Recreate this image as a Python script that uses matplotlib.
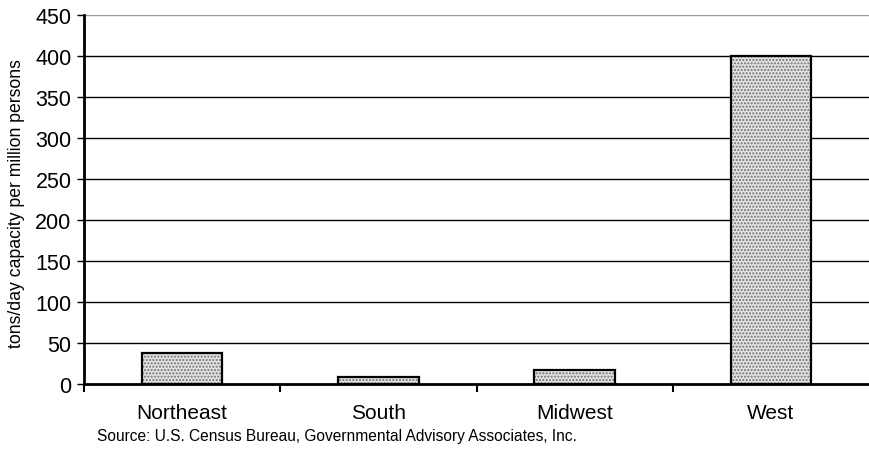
import matplotlib
matplotlib.use("Agg")
import matplotlib.pyplot as plt
from matplotlib.transforms import Bbox
import numpy as np

categories = ["Northeast", "South", "Midwest", "West"]
values = [38, 9, 17, 400]
yticks = [0, 50, 100, 150, 200, 250, 300, 350, 400, 450]

plt.rcParams['font.family'] = ['Liberation Sans', 'DejaVu Sans']
fig = plt.figure(figsize=(8.69, 4.56), dpi=100)
ax = fig.add_axes([84/869, (456-385)/456, (869-84)/869, (385-16)/456])

x = np.arange(len(categories))
# stipple fill (gray dots) then black outline
ax.bar(x, values, width=0.41, facecolor='#e2e2e2', edgecolor='#707070', linewidth=0,
       hatch='.....', zorder=3)
ax.bar(x, values, width=0.41, facecolor='none', edgecolor='black', linewidth=1.6,
       zorder=4)

ax.set_xlim(-0.5, len(categories) - 0.5)
ax.set_ylim(0, 450)
ax.set_yticks(yticks)
ax.set_yticklabels([str(v) for v in yticks], fontsize=15.5)
for v in yticks[1:]:
    ax.axhline(v, color='#999999' if v == 450 else 'black', linewidth=1, zorder=1)

ax.set_xticks(np.arange(-0.5, len(categories) - 1, 1.0))
ax.set_xticklabels([])
ax.set_xticks(x, minor=True)
ax.set_xticklabels(categories, minor=True, fontsize=15)
ax.tick_params(axis='x', which='minor', length=0, pad=14)
ax.tick_params(axis='x', which='major', length=6, width=1.5, direction='out')
ax.tick_params(axis='y', length=5, width=1, direction='out', pad=4)

for s in ['top', 'right']:
    ax.spines[s].set_visible(False)
ax.spines['left'].set_linewidth(2)
ax.spines['bottom'].set_linewidth(2)

t = fig.text(17/869, 1 - 348/456, "tons/day capacity per million persons", rotation=90,
             fontsize=12.7, ha='center', va='bottom', clip_on=True)
t.set_clip_box(Bbox.from_extents(0, 0, 869, 456 - 58))
fig.text(97/869, 1 - 437/456, "Source: U.S. Census Bureau, Governmental Advisory Associates, Inc.",
         fontsize=11.2, ha='left', va='center')

fig.savefig("out.png", dpi=100)
